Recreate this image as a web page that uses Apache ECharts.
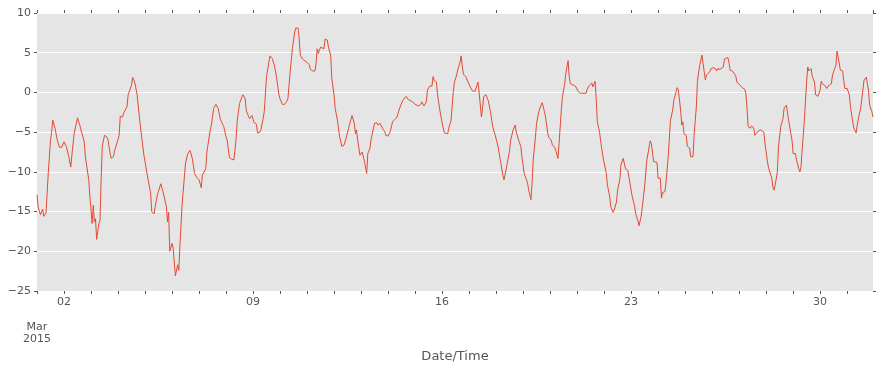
<!DOCTYPE html>
<html>
<head>
<meta charset="utf-8">
<script src="https://cdn.jsdelivr.net/npm/echarts@6/dist/echarts.min.js"></script>
<style>html,body{margin:0;padding:0;background:#fff}#c{width:880px;height:369px}</style>
</head>
<body>
<div id="c"></div>
<script>
// Hours since 2015-03-01 00:00 and temperature values
const hours = [0,1,3,5,6,8,10,12,13,14,16,18,20,22,24,26,28,30,31,33,36,38,40,42,43,46,47,48,49,50,51,52,53,55,56,57,58,60,62,63,65,66,68,69,71,73,74,76,77,78,80,81,84,85,87,89,91,93,95,98,99,101,102,104,105,107,110,112,115,116,117,118,120,121,122,123,125,126,127,129,132,134,136,138,140,142,144,146,147,150,151,154,155,157,159,161,163,166,168,169,171,173,175,177,178,180,182,183,185,186,188,189,191,193,195,196,198,199,201,202,204,207,209,211,213,215,216,218,220,222,223,225,227,229,230,232,233,234,236,239,240,242,243,245,247,248,249,250,252,253,255,256,257,258,259,261,262,264,265,267,269,271,273,275,277,278,280,282,283,284,285,286,287,289,291,292,293,294,296,297,298,300,302,303,305,307,309,310,312,314,316,318,320,322,325,326,328,330,334,336,339,341,342,344,346,347,349,351,352,353,355,356,358,360,362,363,365,366,368,370,371,373,374,376,377,378,379,381,382,385,386,387,389,390,392,393,395,396,397,399,401,403,405,408,410,412,414,415,416,418,420,421,423,424,425,426,428,429,430,431,433,434,436,437,439,440,441,443,444,446,448,449,451,452,454,455,457,458,460,461,463,464,466,467,469,470,472,473,474,477,479,481,483,485,486,488,489,491,493,494,496,497,498,500,501,503,506,507,509,510,512,513,515,516,518,519,521,522,523,525,526,528,529,531,532,534,535,537,540,542,545,546,548,551,552,554,555,556,558,559,561,563,565,566,568,569,570,572,573,574,575,577,578,580,581,583,584,586,587,589,591,592,593,594,595,596,598,599,601,603,604,605,607,608,610,611,612,614,615,616,618,619,621,622,624,625,627,629,630,631,632,634,635,637,638,640,641,643,644,646,647,649,650,653,654,655,656,658,659,661,663,664,666,667,668,670,671,672,674,675,677,678,679,680,682,683,684,685,686,687,688,689,691,692,694,696,697,698,700,702,703,704,706,707,709,710,711,712,714,716,717,718,720,722,723,725,726,728,729,731,732,734,735,737,738,739,740,741,742,743];
const temps = [-12.9,-14.4,-15.4,-14.7,-15.6,-15.2,-10.2,-6.0,-5.0,-3.5,-4.5,-6.0,-6.9,-6.9,-6.2,-6.8,-7.9,-9.4,-7.9,-5.2,-3.2,-4.1,-5.2,-6.2,-8.1,-11.0,-13.1,-13.1,-16.5,-14.2,-16.3,-15.9,-18.5,-16.5,-16.1,-11.0,-6.8,-5.4,-5.6,-5.9,-7.7,-8.3,-8.1,-7.3,-6.4,-5.4,-3.0,-3.1,-2.6,-2.6,-1.8,-0.3,0.9,1.9,1.2,-0.3,-3.1,-5.6,-7.9,-10.4,-10.4,-12.7,-15.0,-15.3,-14.4,-12.9,-11.5,-12.5,-14.4,-16.3,-15.1,-20.0,-19.0,-19.6,-19.6,-23.1,-21.7,-22.4,-19.4,-14.0,-8.9,-7.7,-7.3,-8.3,-10.2,-10.7,-11.0,-12.0,-10.4,-9.6,-7.5,-4.7,-4.1,-2.0,-1.5,-2.0,-3.4,-4.3,-5.6,-6.0,-8.2,-8.4,-8.5,-5.8,-3.5,-1.4,-0.6,-0.3,-0.8,-2.3,-3.0,-3.3,-2.9,-3.8,-4.0,-5.1,-5.0,-4.7,-3.3,-2.4,2.0,4.6,4.3,3.4,1.8,-0.3,-0.8,-1.5,-1.5,-1.1,-0.8,2.6,5.5,7.6,8.1,8.1,6.8,4.7,4.2,3.9,3.9,3.5,2.9,2.7,2.7,3.6,5.5,4.9,5.7,5.9,5.5,6.7,6.5,6.6,5.7,4.7,1.8,-0.3,-2.0,-3.5,-5.6,-6.8,-6.6,-5.6,-4.5,-3.9,-2.9,-3.9,-5.2,-4.7,-6.0,-5.8,-7.9,-7.5,-8.7,-8.6,-10.2,-7.7,-7.0,-5.8,-6.0,-3.9,-3.8,-4.1,-3.9,-4.5,-4.9,-5.4,-5.5,-4.9,-3.7,-3.4,-3.1,-2.1,-1.0,-1.0,-0.5,-0.9,-1.2,-1.5,-1.7,-1.5,-1.2,-1.7,-1.2,0.3,0.8,0.8,2.0,1.5,1.3,-0.3,-2.2,-3.8,-5.1,-5.1,-5.2,-4.5,-3.5,0.1,1.3,2.2,2.9,3.8,4.6,3.2,2.3,2.0,1.8,0.7,0.5,0.2,0.1,0.3,1.3,-0.1,-3.1,-2.0,-0.5,-0.3,-1.0,-2.4,-4.3,-5.8,-7.0,-8.7,-10.4,-11.0,-10.4,-8.9,-7.3,-6.0,-4.8,-4.7,-4.1,-5.0,-6.0,-5.9,-6.8,-8.1,-10.2,-10.4,-11.4,-12.3,-13.5,-11.4,-8.5,-5.6,-3.9,-2.4,-1.6,-1.3,-2.4,-3.1,-5.2,-5.7,-6.0,-6.6,-6.9,-7.3,-8.3,-6.4,-2.2,-0.5,1.1,2.4,4.0,2.0,1.1,0.9,0.7,0.1,-0.1,-0.1,-0.3,-0.1,0.4,0.9,1.2,0.7,1.4,-0.8,-3.7,-5.0,-6.2,-8.1,-10.2,-11.7,-13.1,-14.4,-15.1,-14.8,-13.8,-12.3,-11.0,-9.1,-8.3,-8.5,-9.6,-9.8,-10.6,-12.3,-13.1,-14.2,-15.2,-16.1,-16.8,-15.6,-11.9,-8.5,-6.1,-6.4,-8.7,-8.8,-10.8,-10.8,-13.3,-12.6,-12.5,-11.4,-8.1,-3.5,-2.2,-1.0,0.1,0.6,0.3,-2.2,-4.1,-3.7,-5.2,-5.4,-6.8,-7.0,-8.1,-8.1,-5.4,-1.8,1.5,3.4,4.7,3.6,3.4,1.6,2.2,2.0,2.6,3.0,3.1,3.0,2.7,3.0,2.9,3.1,3.2,4.2,4.3,4.4,3.8,2.8,2.7,2.5,2.1,1.3,1.0,0.8,0.6,0.4,-0.1,-1.8,-4.3,-4.5,-4.2,-4.5,-5.4,-5.0,-5.1,-4.7,-4.5,-5.0,-6.4,-8.5,-9.4,-10.8,-11.9,-12.3,-11.7,-10.0,-6.8,-4.3,-3.3,-2.0,-1.6,-1.7,-3.5,-5.2,-6.0,-7.7,-7.7,-8.5,-9.6,-10.0,-9.4,-7.3,-3.5,-1.0,1.3,3.2,2.7,2.7,3.0,2.0,1.3,-0.3,-0.5,0.3,1.4,1.1,0.9,0.5,0.8,0.9,1.1,2.2,3.0,3.4,5.2,4.5,2.8,2.7,1.5,0.5,0.5,-0.3,-1.8,-3.7,-4.5,-5.1,-4.1,-2.6,-2.1,0.3,1.5,1.9,1.8,0.3,-1.6,-1.6,-2.4,-3.1];
const yTicks = [-25,-20,-15,-10,-5,0,5,10];
const majorDays = [2,9,16,23,30];
const monthLabel = 'Mar';
const yearLabel = '2015';
const xTitle = 'Date/Time';

const fmtNum = v => (v < 0 ? '\u2212' + Math.abs(v) : String(v));
const chart = echarts.init(document.getElementById('c'), null, {renderer: 'canvas'});
const font = 'DejaVu Sans';
const tickStyle = {show: true, length: 3, lineStyle: {color: '#555555', width: 1}};
chart.setOption({
  animation: false,
  backgroundColor: '#ffffff',
  grid: {left: 37, right: 7, top: 13, bottom: 78, show: true, backgroundColor: '#E5E5E5', borderWidth: 0},
  xAxis: [{
    type: 'value', min: 0, max: 743, interval: 24, position: 'bottom',
    axisLine: {show: false, onZero: false},
    axisTick: tickStyle,
    splitLine: {show: false},
    axisLabel: {
      interval: 0, showMinLabel: true, showMaxLabel: false, color: '#555555', fontFamily: font, fontSize: 11, lineHeight: 12.4, margin: 5,
      formatter: v => {
        if (v === 0) return '\n\n' + monthLabel + '\n' + yearLabel;
        const d = Math.round(v / 24) + 1;
        return majorDays.includes(d) ? String(d).padStart(2, '0') : '';
      }
    },
    name: xTitle, nameLocation: 'middle', nameGap: 56,
    nameTextStyle: {color: '#555555', fontFamily: font, fontSize: 13}
  }, {
    type: 'value', min: 0, max: 743, interval: 24, position: 'top',
    axisLine: {show: false, onZero: false}, axisTick: tickStyle, axisLabel: {show: false}, splitLine: {show: false}
  }],
  yAxis: [{
    type: 'value', min: -25, max: 10, interval: 5,
    axisLine: {show: false, onZero: false}, axisTick: tickStyle,
    splitLine: {show: true, lineStyle: {color: '#ffffff', width: 1}},
    axisLabel: {color: '#555555', fontFamily: font, fontSize: 11, margin: 6, formatter: v => yTicks.includes(v) ? fmtNum(v) : ''}
  }, {
    type: 'value', min: -25, max: 10, interval: 5, position: 'right',
    axisLine: {show: false, onZero: false}, axisTick: tickStyle, axisLabel: {show: false}, splitLine: {show: false}
  }],
  series: [{
    type: 'line', xAxisIndex: 0, yAxisIndex: 0, showSymbol: false, symbol: 'none',
    data: hours.map((h, i) => [h, temps[i]]),
    lineStyle: {color: '#E24A33', width: 1}
  }]
});
</script>
</body>
</html>
